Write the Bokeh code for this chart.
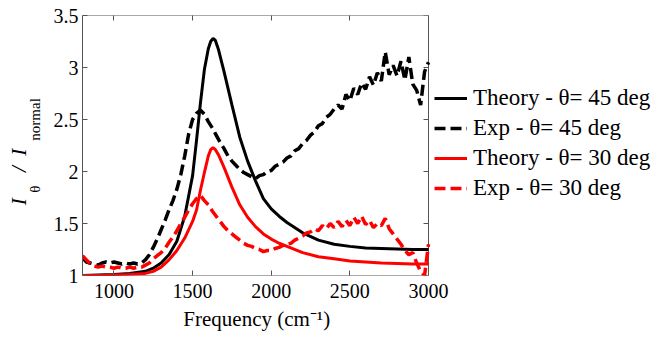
import numpy as np
from bokeh.plotting import figure
from bokeh.models import Range1d, FixedTicker, LinearAxis, Legend, LegendItem
from bokeh.embed import file_html
from bokeh.resources import INLINE

# ---------------- data ----------------
freq_theory = [800, 900, 1000, 1100, 1200, 1250, 1300, 1350, 1400, 1450, 1500, 1525,
               1550, 1575, 1600, 1615, 1630, 1645, 1665, 1700, 1750, 1800, 1850, 1900,
               1950, 2000, 2050, 2100, 2200, 2300, 2400, 2500, 2600, 2700, 2800, 2900, 3000]
theory_45 = [1.00, 1.005, 1.01, 1.02, 1.04, 1.07, 1.12, 1.20, 1.33, 1.57, 1.96, 2.30,
             2.66, 2.98, 3.18, 3.25, 3.28, 3.26, 3.17, 2.96, 2.64, 2.33, 2.10, 1.91,
             1.74, 1.64, 1.57, 1.51, 1.41, 1.34, 1.30, 1.28, 1.265, 1.26, 1.255, 1.25, 1.25]
theory_30 = [1.00, 1.00, 1.005, 1.01, 1.02, 1.04, 1.08, 1.15, 1.24, 1.36, 1.52, 1.63,
             1.82, 1.99, 2.15, 2.21, 2.23, 2.21, 2.16, 2.04, 1.85, 1.68, 1.56, 1.47,
             1.40, 1.35, 1.31, 1.28, 1.22, 1.18, 1.16, 1.14, 1.13, 1.12, 1.115, 1.11, 1.11]

freq_exp = list(range(800, 3001, 25))
exp_45 = [1.17, 1.13, 1.12, 1.11, 1.10, 1.12, 1.13, 1.12, 1.13, 1.12, 1.11, 1.12,
          1.11, 1.12, 1.11, 1.12, 1.15, 1.20, 1.27, 1.35, 1.44, 1.53, 1.63, 1.72,
          1.83, 1.97, 2.15, 2.36, 2.50, 2.56, 2.59, 2.55, 2.48, 2.42, 2.35, 2.28,
          2.22, 2.15, 2.10, 2.06, 2.02, 1.99, 1.97, 1.95, 1.93, 1.96, 1.97, 2.00,
          2.01, 2.05, 2.07, 2.09, 2.13, 2.15, 2.20, 2.22, 2.27, 2.30, 2.35, 2.38,
          2.44, 2.46, 2.52, 2.55, 2.60, 2.64, 2.60, 2.74, 2.68, 2.80, 2.74, 2.85,
          2.79, 2.91, 2.83, 2.95, 2.87, 3.15, 2.93, 3.02, 2.92, 3.06, 2.88, 3.10,
          2.84, 2.78, 2.64, 2.96, 3.05]
exp_30 = [1.19, 1.15, 1.11, 1.09, 1.08, 1.09, 1.08, 1.08, 1.07, 1.08, 1.07, 1.07,
          1.08, 1.07, 1.08, 1.08, 1.10, 1.12, 1.16, 1.19, 1.22, 1.26, 1.32, 1.37,
          1.43, 1.50, 1.56, 1.63, 1.69, 1.74, 1.77, 1.72, 1.68, 1.62, 1.57, 1.52,
          1.47, 1.43, 1.40, 1.37, 1.34, 1.31, 1.29, 1.28, 1.26, 1.25, 1.23, 1.24,
          1.24, 1.26, 1.27, 1.29, 1.30, 1.31, 1.34, 1.36, 1.38, 1.41, 1.42, 1.45,
          1.43, 1.48, 1.45, 1.50, 1.46, 1.52, 1.47, 1.53, 1.48, 1.56, 1.50, 1.57,
          1.49, 1.53, 1.46, 1.50, 1.48, 1.55, 1.45, 1.40, 1.35, 1.30, 1.24, 1.20,
          1.22, 1.12, 1.04, 1.00, 1.30]

x_ticks = [1000, 1500, 2000, 2500, 3000]
y_ticks = [1, 1.5, 2, 2.5, 3, 3.5]
y_tick_labels = ["1", "1.5", "2", "2.5", "3", "3.5"]
legend_labels = ["Theory - \u03b8= 45 deg", "Exp - \u03b8= 45 deg",
                 "Theory - \u03b8= 30 deg", "Exp - \u03b8= 30 deg"]
x_label = "Frequency (cm\u207b\u00b9)"
ylabel_parts = ["I", "\u03b8", "/", "I", "normal"]

FONT = "Liberation Serif"
AXC = "#555555"
NB = "\u00a0"
W, H = 651, 339
FL, FR, FT, FB = 82, 428, 15, 275     # plot box edges in pixels
X0, X1, Y0, Y1 = 800, 3000, 1, 3.5     # plot box limits in data units
UPX = (X1 - X0) / (FR - FL)            # data units per pixel (x)
X_END = X0 + (W - FL) * UPX            # frame runs on to the right edge (legend area)
TICK = 5 * UPX                         # 5 px tick length in x data units

# y label: main line (italic "I / I") and the subscript line ("θ ... normal")
ylab_main = ylabel_parts[0] + NB * 5 + ylabel_parts[2] + NB * 2 + ylabel_parts[3] + NB * 12
ylab_sub = ylabel_parts[1] + NB * 12 + ylabel_parts[4]

# ---------------- figure ----------------
p = figure(width=W, height=H, x_range=Range1d(X0, X_END), y_range=Range1d(Y0, Y1),
           output_backend="svg", toolbar_location=None,
           min_border_left=FL, min_border_right=0, min_border_top=FT,
           min_border_bottom=H - FB)
p.grid.visible = False
p.outline_line_color = None
p.background_fill_color = "white"
p.border_fill_color = "white"

p.xaxis.ticker = FixedTicker(ticks=x_ticks)
p.yaxis.ticker = FixedTicker(ticks=y_ticks)
p.yaxis.major_label_overrides = {t: s for t, s in zip(y_ticks, y_tick_labels)}
for ax in (p.xaxis[0], p.yaxis[0]):
    ax.major_tick_in = 5
    ax.major_tick_out = 0
    ax.minor_tick_line_color = None
    ax.major_tick_line_color = AXC
    ax.major_label_text_font = FONT
    ax.major_label_text_font_size = "20px"
    ax.major_label_text_color = "black"
p.xaxis.axis_line_color = None
p.yaxis.axis_line_color = AXC
p.xaxis.major_label_standoff = 8
p.yaxis.major_label_standoff = 4
# trailing no-break spaces keep the label centred under the plot box, not the frame
p.xaxis.axis_label = x_label + NB * 42
p.xaxis.axis_label_text_font = FONT
p.xaxis.axis_label_text_font_size = "21px"
p.xaxis.axis_label_text_font_style = "normal"
p.xaxis.axis_label_text_color = "black"
p.xaxis.axis_label_standoff = 6

p.yaxis.axis_label = ylab_sub
p.yaxis.axis_label_text_font = FONT
p.yaxis.axis_label_text_font_size = "15px"
p.yaxis.axis_label_text_font_style = "normal"
p.yaxis.axis_label_text_color = "black"
p.yaxis.axis_label_standoff = 8

main_lab_ax = LinearAxis(ticker=FixedTicker(ticks=y_ticks), major_tick_line_color=None,
                         minor_tick_line_color=None, axis_line_color=None,
                         major_label_text_font_size="1px", major_label_standoff=0,
                         major_label_overrides={t: "" for t in y_ticks},
                         axis_label=ylab_main, axis_label_text_font=FONT,
                         axis_label_text_font_size="21px", axis_label_text_font_style="italic",
                         axis_label_text_color="black", axis_label_standoff=-13)
p.add_layout(main_lab_ax, "left")

top_ax = LinearAxis(ticker=FixedTicker(ticks=x_ticks), major_tick_in=5, major_tick_out=0,
                    minor_tick_line_color=None, axis_line_color=None, major_tick_line_color=AXC,
                    major_label_text_font_size="1px", major_label_standoff=0,
                    major_label_overrides={t: "" for t in x_ticks})
p.add_layout(top_ax, "above")

# plot box (right, top, bottom edges) and right-hand ticks
p.line([X0, X1, X1, X0], [Y0, Y0, Y1, Y1], line_color=AXC, line_width=1)
p.segment(x0=[X1 - TICK] * len(y_ticks), y0=y_ticks, x1=[X1] * len(y_ticks), y1=y_ticks,
          line_color=AXC, line_width=1)

r1 = p.line(freq_theory, theory_45, line_color="black", line_width=3)
r2 = p.line(freq_exp, exp_45, line_color="black", line_width=3.5, line_dash="11 5")
r3 = p.line(freq_theory, theory_30, line_color="#ff0000", line_width=3)
r4 = p.line(freq_exp, exp_30, line_color="#ff0000", line_width=3.5, line_dash="11 5")

legend = Legend(items=[LegendItem(label=lab, renderers=[r]) for lab, r in
                       zip(legend_labels, [r1, r2, r3, r4])],
                location=(434 - FL, 74), orientation="vertical",
                glyph_width=33, glyph_height=24, label_height=24, spacing=4,
                padding=0, margin=0, label_standoff=6,
                border_line_color=None, background_fill_alpha=0,
                label_text_font=FONT, label_text_font_size="23px", label_text_color="black")
p.add_layout(legend, "center")

open("out.html", "w").write(file_html(p, INLINE))
